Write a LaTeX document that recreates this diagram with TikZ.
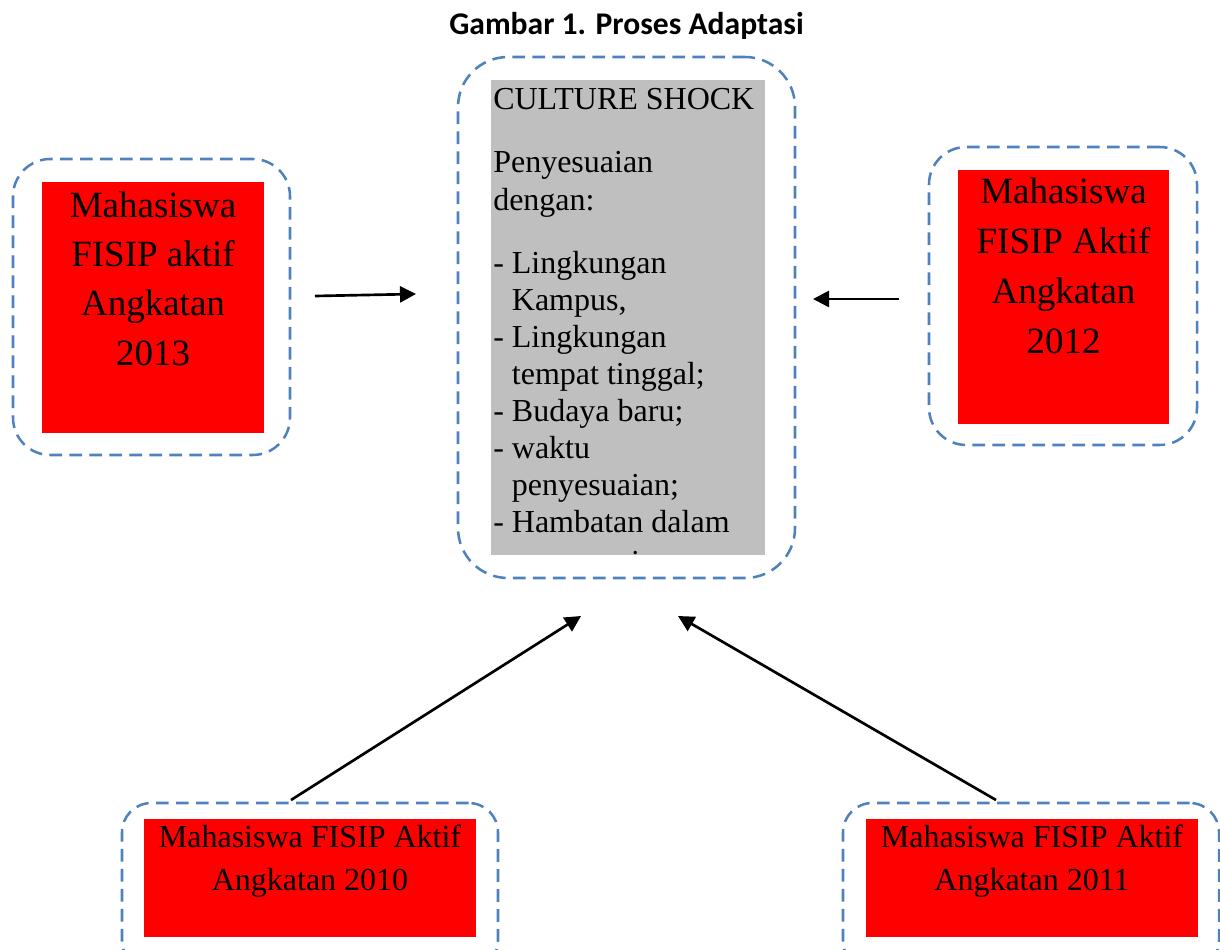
\documentclass[tikz,border=0pt]{standalone}
\usepackage{fontspec}
\setmainfont{Liberation Serif}
\newfontfamily\titlefont{Carlito}
\usetikzlibrary{arrows.meta,fit}
\definecolor{dashblue}{RGB}{79,129,189}
\definecolor{boxgray}{RGB}{191,191,191}
\definecolor{boxred}{RGB}{255,0,0}
\begin{document}
\begin{tikzpicture}[x=0.75pt,y=-0.75pt,
  dbox/.style={draw=dashblue, line width=1.9pt, dash pattern=on 9.5pt off 5.5pt, inner sep=0pt, rounded corners=#1},
  dbox/.default=28pt,
  redbox/.style={fill=boxred, inner sep=0pt},
  graybox/.style={fill=boxgray, inner sep=0pt},
  bigtxt/.style={font=\fontsize{27.75pt}{33pt}\selectfont, anchor=base, inner sep=0pt},
  midtxt/.style={font=\fontsize{24pt}{28pt}\selectfont, anchor=base, inner sep=0pt},
  listtxt/.style={font=\fontsize{24pt}{28pt}\selectfont, anchor=base west, inner sep=0pt},
  titletxt/.style={font=\titlefont\bfseries\fontsize{23.7pt}{28pt}\selectfont, anchor=base, inner sep=0pt},
  arr/.style={line width=2pt, -{Triangle[length=12pt,width=12pt]}},
]
\useasboundingbox (0,0) rectangle (1220,949);
\clip (0,0) rectangle (1220,949);

% title
\node[titletxt] (title) at (626.5,35) {Gambar 1. Proses Adaptasi};

% dashed frames
\node[dbox=37.5pt, fit={(458,57) (795,578)}] (dc) {};
\node[dbox=28pt, fit={(13,159) (290,455)}] (dl) {};
\node[dbox=28pt, fit={(929,147) (1197,445)}] (dr) {};
\node[dbox=22pt, fit={(122,803) (498,970)}] (dbl) {};
\node[dbox=22pt, fit={(843,803) (1219,970)}] (dbr) {};

% filled boxes
\node[graybox, fit={(491,80) (765,555)}] (gc) {};
\node[redbox, fit={(42,182) (264,433)}] (rl) {};
\node[redbox, fit={(958,170) (1169,424)}] (rr) {};
\node[redbox, fit={(144,819) (476,937)}] (rbl) {};
\node[redbox, fit={(866,819) (1198,937)}] (rbr) {};

% left box text
\node[bigtxt] (tl1) at (153,217) {Mahasiswa};
\node[bigtxt] (tl2) at (153,266) {FISIP aktif};
\node[bigtxt] (tl3) at (153,315.5) {Angkatan};
\node[bigtxt] (tl4) at (153,365) {2013};

% right box text
\node[bigtxt] (tr1) at (1063.5,203) {Mahasiswa};
\node[bigtxt] (tr2) at (1063.5,253) {FISIP Aktif};
\node[bigtxt] (tr3) at (1063.5,303) {Angkatan};
\node[bigtxt] (tr4) at (1063.5,353) {2012};

% bottom boxes text
\node[midtxt] (tb1) at (310,847) {Mahasiswa FISIP Aktif};
\node[midtxt] (tb2) at (310,890) {Angkatan 2010};
\node[midtxt] (tc1) at (1032,847) {Mahasiswa FISIP Aktif};
\node[midtxt] (tc2) at (1032,890) {Angkatan 2011};

% centre text (clipped by grey box)
\begin{scope}
\clip (491,80) rectangle (765,555);
\node[listtxt] (c1) at (493,109) {CULTURE SHOCK};
\node[listtxt] (c2) at (493,172) {Penyesuaian};
\node[listtxt] (c3) at (493,210) {dengan:};
\node[listtxt] (c4) at (493,273) {- Lingkungan};
\node[listtxt] (c5) at (493,310) {\hphantom{- }Kampus,};
\node[listtxt] (c6) at (493,347) {- Lingkungan};
\node[listtxt] (c7) at (493,384) {\hphantom{- }tempat tinggal;};
\node[listtxt] (c8) at (493,421) {- Budaya baru;};
\node[listtxt] (c9) at (493,458) {- waktu};
\node[listtxt] (c10) at (493,495) {\hphantom{- }penyesuaian;};
\node[listtxt] (c11) at (493,532) {- Hambatan dalam};
\node[listtxt] (c12) at (493,572.5) {\hphantom{- }penyesuaian};
\end{scope}

% arrows
\coordinate (a1s) at (315,296); \coordinate (a1e) at (416,294);
\coordinate (a2s) at (899,299); \coordinate (a2e) at (813,299);
\coordinate (a3s) at (291,800); \coordinate (a3e) at (581,616);
\coordinate (a4s) at (996,800); \coordinate (a4e) at (678,616);
\draw[arr] (a1s) -- (a1e);
\draw[arr] (a2s) -- (a2e);
\draw[arr] (a3s) -- (a3e);
\draw[arr] (a4s) -- (a4e);
\end{tikzpicture}
\end{document}
